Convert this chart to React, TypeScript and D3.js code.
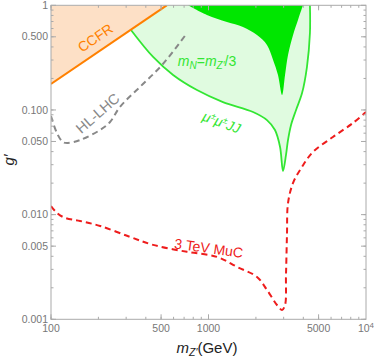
import React from 'react'
import * as d3 from 'd3'

// CCFR exclusion (straight line in log-log)
const ccfrMass = [100, 543]
const ccfrG = [0.177, 1]

// mu+- mu+- JJ boundary, mN = mZ'/3 (light green)
const jjMass = [322, 445, 596, 845, 1236, 1918, 2351, 2643, 2847, 2972, 3105, 3198, 3343, 3597, 3926, 4217, 4406, 4406]
const jjG = [0.581, 0.321, 0.216, 0.155, 0.119, 0.0957, 0.080, 0.0643, 0.0443, 0.0261, 0.0372, 0.0517, 0.0719, 0.100, 0.145, 0.257, 0.543, 1]

// dark green region
const darkMass = [741, 977, 1309, 1655, 2032, 2351, 2570, 2762, 2931, 3062, 3198, 3443, 3700, 3981]
const darkG = [1, 0.808, 0.692, 0.621, 0.520, 0.418, 0.301, 0.216, 0.139, 0.216, 0.335, 0.520, 0.724, 1]

// HL-LHC projection
const hlMass = [100, 109, 119, 128, 153, 205, 237, 274, 367, 507, 730]
const hlG = [0.0875, 0.0603, 0.0494, 0.0484, 0.0516, 0.0644, 0.0767, 0.107, 0.166, 0.269, 0.543]

// 3 TeV muon collider
const mucMass = [100, 109, 123, 153, 205, 318, 445, 730, 1132, 1517, 2032, 2351, 2722, 2931, 3062, 3105, 3150, 3198, 3443, 3926, 4603, 6166, 8260, 10000]
const mucG = [0.0121, 0.0104, 0.0093, 0.0087, 0.0078, 0.00612, 0.00514, 0.00441, 0.00395, 0.00317, 0.00254, 0.00191, 0.00137, 0.00123, 0.00137, 0.00267, 0.00644, 0.0129, 0.0201, 0.0286, 0.0397, 0.0552, 0.075, 0.0957]

const yTicks = [0.001, 0.005, 0.01, 0.05, 0.1, 0.5, 1]
const yTickLabels = ['0.001', '0.005', '0.010', '0.050', '0.100', '0.500', '1']
const xTicks = [100, 500, 1000, 5000]
const xTickLabels = ['100', '500', '1000', '5000']

const W = 374
const H = 359
const left = 51, right = 366, top = 5.3, bottom = 319.3

export default function App() {
  const x = d3.scaleLog().domain([100, 10000]).range([left, right])
  const y = d3.scaleLog().domain([0.001, 1]).range([bottom, top])

  const pts = (ms: number[], gs: number[]) => ms.map((m, i) => [x(m), y(gs[i])] as [number, number])
  const line = d3.line().curve(d3.curveCatmullRom.alpha(0.5))
  const straight = d3.line()

  const ccfrPts = pts(ccfrMass, ccfrG)
  const ccfrFill = straight([...ccfrPts, [x(100), y(1)]]) + 'Z'
  const jjPts = pts(jjMass, jjG)
  const jjLine = line(jjPts) as string
  const jjFill = jjLine + `L${x(ccfrMass[1])},${y(1)}Z`
  const darkFill = line(pts(darkMass, darkG)) + 'Z'

  const minorY: number[] = []
  for (let e = -3; e < 0; e++) for (let k = 1; k < 10; k++) minorY.push(k * Math.pow(10, e))
  const minorX: number[] = []
  for (let e = 2; e < 4; e++) for (let k = 1; k < 10; k++) minorX.push(k * Math.pow(10, e))

  const axisCol = '#aaa'
  const labCol = '#777'
  const font = 'Liberation Sans, Arial, sans-serif'

  return (
    <svg width={W} height={H} style={{ position: 'absolute', left: 0, top: 0, background: '#fff' }} fontFamily={font}>
      <defs>
        <clipPath id="plot">
          <rect x={left} y={top} width={right - left} height={bottom - top} />
        </clipPath>
      </defs>
      <g clipPath="url(#plot)">
        <path d={ccfrFill} fill="#fde0c6" />
        <path d={jjFill} fill="#e0fbe0" />
        <path d={darkFill} fill="#00e600" />
        <path d={jjLine} fill="none" stroke="#33e633" strokeWidth={1.8} />
        <path d={straight(ccfrPts) as string} fill="none" stroke="#ff8000" strokeWidth={2} />
        <path d={line(pts(hlMass, hlG)) as string} fill="none" stroke="#888" strokeWidth={2} strokeDasharray="6,4" />
        <path d={line(pts(mucMass, mucG)) as string} fill="none" stroke="#ee1c1c" strokeWidth={2} strokeDasharray="6,4" />
      </g>

      {/* frame */}
      <rect x={left} y={top} width={right - left} height={bottom - top} fill="none" stroke={axisCol} strokeWidth={1} />
      {minorY.map((v, i) => (
        <g key={'my' + i} stroke={axisCol}>
          <line x1={left} x2={left + 2.5} y1={y(v)} y2={y(v)} />
          <line x1={right} x2={right - 2.5} y1={y(v)} y2={y(v)} />
        </g>
      ))}
      {yTicks.map((v, i) => (
        <g key={'y' + i}>
          <line x1={left} x2={left + 5} y1={y(v)} y2={y(v)} stroke={axisCol} />
          <line x1={right} x2={right - 5} y1={y(v)} y2={y(v)} stroke={axisCol} />
          <text x={left - 3} y={y(v)} dy="0.35em" textAnchor="end" fontSize={10.5} fill={labCol}>{yTickLabels[i]}</text>
        </g>
      ))}
      {minorX.map((v, i) => (
        <g key={'mx' + i} stroke={axisCol}>
          <line x1={x(v)} x2={x(v)} y1={bottom} y2={bottom - 2.5} />
          <line x1={x(v)} x2={x(v)} y1={top} y2={top + 2.5} />
        </g>
      ))}
      {xTicks.map((v, i) => (
        <g key={'x' + i}>
          <line x1={x(v)} x2={x(v)} y1={bottom} y2={bottom - 5} stroke={axisCol} />
          <line x1={x(v)} x2={x(v)} y1={top} y2={top + 5} stroke={axisCol} />
          <text x={x(v)} y={bottom + 13} textAnchor="middle" fontSize={10.5} fill={labCol}>{xTickLabels[i]}</text>
        </g>
      ))}
      <text x={right} y={bottom + 13} textAnchor="middle" fontSize={10.5} fill={labCol}>
        10<tspan dy={-4} fontSize={8}>4</tspan>
      </text>

      {/* axis titles */}
      <text transform={`translate(14,160) rotate(-90)`} textAnchor="middle" fontSize={15} fontStyle="italic" fill="#222">g′</text>
      <text x={207} y={353} textAnchor="middle" fontSize={15} fill="#222">
        <tspan fontStyle="italic">m</tspan>
        <tspan fontSize={10.5} dy={3} fontStyle="italic">Z′</tspan>
        <tspan dy={-3}>(GeV)</tspan>
      </text>

      {/* annotations */}
      <text transform="translate(98,42) rotate(-34)" textAnchor="middle" fontSize={14} fill="#ff8000">CCFR</text>
      <text transform="translate(101,117) rotate(-41)" textAnchor="middle" fontSize={14.5} fill="#888">HL-LHC</text>
      <text x={207} y={66} textAnchor="middle" fontSize={14} fill="#33e633">
        <tspan fontStyle="italic">m</tspan><tspan fontSize={10} dy={3} fontStyle="italic">N</tspan>
        <tspan dy={-3}>=</tspan><tspan fontStyle="italic">m</tspan><tspan fontSize={10} dy={3} fontStyle="italic">Z′</tspan>
        <tspan dy={-3}>/3</tspan>
      </text>
      <text transform="translate(220,127) rotate(20)" textAnchor="middle" fontSize={14} fill="#33e633" fontStyle="italic">
        μ<tspan fontSize={9} dy={-5}>±</tspan><tspan dy={5}>μ</tspan><tspan fontSize={9} dy={-5}>±</tspan><tspan dy={5}>JJ</tspan>
      </text>
      <text transform="translate(208,253) rotate(8)" textAnchor="middle" fontSize={14} fill="#ee1c1c">3 TeV MuC</text>
    </svg>
  )
}
